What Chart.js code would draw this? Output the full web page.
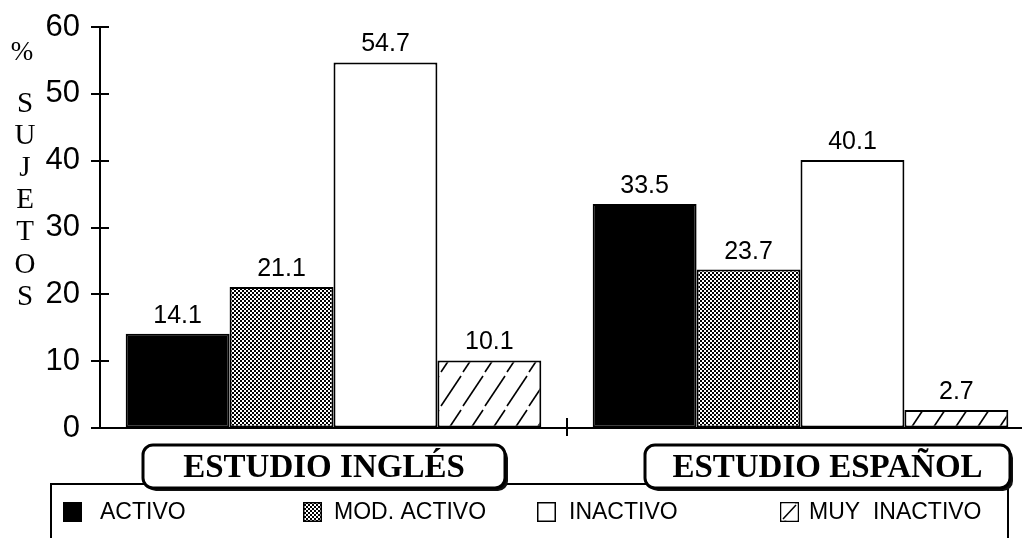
<!DOCTYPE html>
<html>
<head>
<meta charset="utf-8">
<script src="https://cdn.jsdelivr.net/npm/chart.js@4.4.1/dist/chart.umd.min.js"></script>
<style>
  html, body { margin: 0; padding: 0; background: #fff; overflow: hidden; }
  #wrap { width: 1022px; height: 538px; overflow: hidden; }
  canvas { display: block; }
</style>
</head>
<body>
<div id="wrap"><canvas id="c" width="1060" height="538"></canvas></div>
<script>
// Activity level of subjects (%) in the English and Spanish studies
const categories = ['ESTUDIO INGLÉS', 'ESTUDIO ESPAÑOL'];
const seriesNames = ['ACTIVO', 'MOD. ACTIVO', 'INACTIVO', 'MUY  INACTIVO'];
const activo = [14.1, 33.5];
const modActivo = [21.1, 23.7];
const inactivo = [54.7, 40.1];
const muyInactivo = [10.1, 2.7];
const yMin = 0, yMax = 60, yStep = 10;
const unitLabel = '%';
const axisLetters = ['S', 'U', 'J', 'E', 'T', 'O', 'S'];

const SANS = "'Liberation Sans', Arial, sans-serif";
const SERIF = "'Liberation Serif', 'Times New Roman', serif";

// fill patterns
function checkerPattern() {
  const t = document.createElement('canvas');
  t.width = 4; t.height = 4;
  const g = t.getContext('2d');
  g.fillStyle = '#fff'; g.fillRect(0, 0, 4, 4);
  g.fillStyle = '#000';
  g.fillRect(0, 0, 2, 2); g.fillRect(2, 2, 2, 2);
  return g.createPattern(t, 'repeat');
}
function hatchPattern() {
  const w = 22, h = 34;
  const t = document.createElement('canvas');
  t.width = w; t.height = h;
  const g = t.getContext('2d');
  g.fillStyle = '#fff'; g.fillRect(0, 0, w, h);
  g.strokeStyle = '#000'; g.lineWidth = 1.6;
  g.beginPath(); g.moveTo(1, h - 2); g.lineTo(w - 1, 2); g.stroke();
  return g.createPattern(t, 'repeat');
}
const fills = ['#000', checkerPattern(), '#fff', hatchPattern()];
const seriesValues = [activo, modActivo, inactivo, muyInactivo];

const datasets = seriesValues.map((vals, i) => ({
  label: seriesNames[i],
  data: vals,
  backgroundColor: fills[i],
  borderColor: '#000',
  borderWidth: 2,
  borderSkipped: false,
  categoryPercentage: 0.89,
  barPercentage: 1.0
}));

// value labels above bars
const valueLabels = {
  id: 'valueLabels',
  afterDatasetsDraw(chart) {
    const c = chart.ctx;
    c.save();
    c.fillStyle = '#000';
    c.font = '25px ' + SANS;
    c.textAlign = 'center';
    c.textBaseline = 'alphabetic';
    chart.data.datasets.forEach((ds, di) => {
      chart.getDatasetMeta(di).data.forEach((bar, i) => {
        c.fillText(ds.data[i].toFixed(1), bar.x, bar.y - 11);
      });
    });
    c.restore();
  }
};

// cross ticks, axis title, boxed category labels and legend
const decorations = {
  id: 'decorations',
  afterDraw(chart) {
    const c = chart.ctx;
    const ys = chart.scales.y, xs = chart.scales.x;
    const area = chart.chartArea;
    c.save();
    c.strokeStyle = '#000';
    c.lineWidth = 2;
    // y ticks crossing the axis
    ys.ticks.forEach(t => {
      const py = Math.round(ys.getPixelForValue(t.value));
      c.beginPath(); c.moveTo(area.left - 9, py); c.lineTo(area.left + 9, py); c.stroke();
    });
    // x tick between categories
    for (let i = 0; i < categories.length - 1; i++) {
      const px = Math.round((xs.getPixelForValue(i) + xs.getPixelForValue(i + 1)) / 2);
      c.beginPath(); c.moveTo(px, area.bottom - 10); c.lineTo(px, area.bottom + 8); c.stroke();
    }

    // axis title
    c.fillStyle = '#000';
    c.textAlign = 'center';
    c.textBaseline = 'middle';
    c.font = '27px ' + SERIF;
    c.fillText(unitLabel, 22, 53);
    c.font = '29px ' + SERIF;
    axisLetters.forEach((ch, i) => c.fillText(ch, 25, 104 + i * 32.2));

    // legend frame
    c.lineWidth = 2;
    c.beginPath();
    c.moveTo(51, 540); c.lineTo(51, 484); c.lineTo(1008, 484); c.lineTo(1008, 540);
    c.stroke();

    // legend items
    const swX = [63, 303, 537, 780];
    const txX = [100, 334, 569, 809];
    const swY = 502, sw = 19, sh = 20;
    chart.data.datasets.forEach((ds, i) => {
      c.fillStyle = ds.backgroundColor;
      c.fillRect(swX[i], swY, sw, sh);
      c.lineWidth = 1.5;
      c.strokeStyle = '#000';
      c.strokeRect(swX[i] + 0.75, swY + 0.75, sw - 1.5, sh - 1.5);
      if (i === 3) {
        c.fillStyle = '#fff';
        c.fillRect(swX[i] + 1.5, swY + 1.5, sw - 3, sh - 3);
        c.beginPath(); c.moveTo(swX[i] + 3, swY + sh - 3); c.lineTo(swX[i] + sw - 3, swY + 3); c.stroke();
      }
      c.fillStyle = '#000';
      c.font = '23px ' + SANS;
      c.textAlign = 'left';
      c.textBaseline = 'middle';
      c.fillText(ds.label, txX[i], swY + sh / 2 + 1);
    });

    // boxed category labels
    const boxes = [{ x: 143, w: 362 }, { x: 645, w: 365 }];
    const by = 445, bh = 43, r = 10;
    categories.forEach((name, i) => {
      const b = boxes[i];
      c.fillStyle = '#111';
      c.beginPath(); c.roundRect(b.x + 3, by + 3, b.w, bh, r); c.fill();
      c.fillStyle = '#fff';
      c.beginPath(); c.roundRect(b.x, by, b.w, bh, r); c.fill();
      c.lineWidth = 3;
      c.strokeStyle = '#000';
      c.stroke();
      c.fillStyle = '#000';
      c.font = 'bold 33px ' + SERIF;
      c.textAlign = 'center';
      c.textBaseline = 'alphabetic';
      c.fillText(name, b.x + b.w / 2, by + 32);
    });
    c.restore();
  }
};

new Chart(document.getElementById('c'), {
  type: 'bar',
  data: { labels: categories, datasets },
  options: {
    responsive: false,
    animation: false,
    layout: { padding: { top: 27, right: 26, left: 0, bottom: 0 } },
    plugins: { legend: { display: false }, tooltip: { enabled: false } },
    scales: {
      x: {
        grid: { display: true, drawOnChartArea: false, drawTicks: false },
        border: { display: true, color: '#000', width: 2 },
        ticks: { display: false },
        afterFit(s) { s.height = 110; s.paddingLeft = 0; s.paddingRight = 0; }
      },
      y: {
        min: yMin, max: yMax,
        grid: { display: true, drawOnChartArea: false, drawTicks: false },
        border: { display: true, color: '#000', width: 2 },
        ticks: {
          stepSize: yStep,
          padding: 20,
          color: '#000',
          font: { family: SANS, size: 31 }
        },
        afterFit(s) { s.width = 100; s.paddingTop = 0; s.paddingBottom = 0; }
      }
    }
  },
  plugins: [valueLabels, decorations]
});
</script>
</body>
</html>
